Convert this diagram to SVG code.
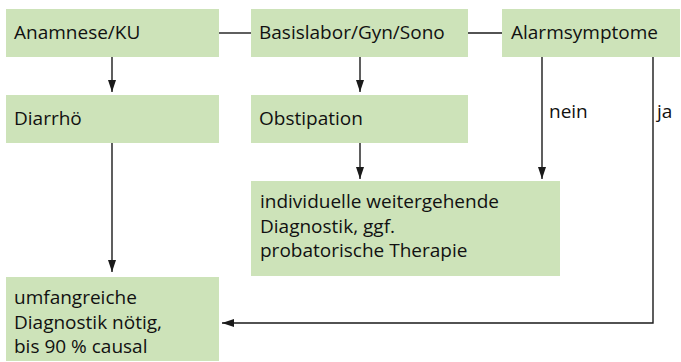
<svg xmlns="http://www.w3.org/2000/svg" width="681" height="362" viewBox="0 0 681 362">
<style>
.box{fill:#cde3b9;stroke:none}
.t{font-family:"Open Sans","Noto Sans","Liberation Sans",sans-serif;font-size:19px;fill:#111}
.ln{fill:none;stroke:#1a1a1a;stroke-width:1.4}
</style>
<defs>
<marker id="ah" viewBox="0 0 12 8" refX="12" refY="4" markerWidth="12" markerHeight="8" markerUnits="userSpaceOnUse" orient="auto">
<path d="M0,0 L12,4 L0,8 z" fill="#1a1a1a"/>
</marker>
</defs>
<rect width="681" height="362" fill="#fff"/>
<g id="connectors">
<path class="ln" d="M219,33 H251"/>
<path class="ln" d="M468,33 H502"/>
<path class="ln" d="M112,57 V92" marker-end="url(#ah)"/>
<path class="ln" d="M112,143 V272" marker-end="url(#ah)"/>
<path class="ln" d="M360,57 V92" marker-end="url(#ah)"/>
<path class="ln" d="M360,143 V179" marker-end="url(#ah)"/>
<path class="ln" d="M542,57 V179" marker-end="url(#ah)"/>
<path class="ln" d="M653,57 V323 H222" marker-end="url(#ah)"/>
<text class="t" x="549" y="118">nein</text>
<text class="t" x="657" y="118">ja</text>
</g>
<g id="anamnese">
<rect class="box" x="6" y="9" width="213" height="48"/>
<text class="t" x="14" y="39">Anamnese/KU</text>
</g>
<g id="basislabor">
<rect class="box" x="251" y="9" width="217" height="48"/>
<text class="t" x="259" y="39">Basislabor/Gyn/Sono</text>
</g>
<g id="alarmsymptome">
<rect class="box" x="502" y="9" width="178" height="48"/>
<text class="t" x="511" y="39">Alarmsymptome</text>
</g>
<g id="diarrhoe">
<rect class="box" x="6" y="95" width="213" height="48"/>
<text class="t" x="14" y="125">Diarrhö</text>
</g>
<g id="obstipation">
<rect class="box" x="251" y="95" width="217" height="48"/>
<text class="t" x="259" y="125">Obstipation</text>
</g>
<g id="individuelle">
<rect class="box" x="251" y="181" width="309" height="95"/>
<text class="t" x="260" y="208">individuelle weitergehende</text>
<text class="t" x="260" y="233">Diagnostik, ggf.</text>
<text class="t" x="260" y="257">probatorische Therapie</text>
</g>
<g id="umfangreiche">
<rect class="box" x="6" y="277" width="213" height="84"/>
<text class="t" x="14" y="304">umfangreiche</text>
<text class="t" x="14" y="329">Diagnostik nötig,</text>
<text class="t" x="14" y="353">bis 90 % causal</text>
</g>
</svg>
